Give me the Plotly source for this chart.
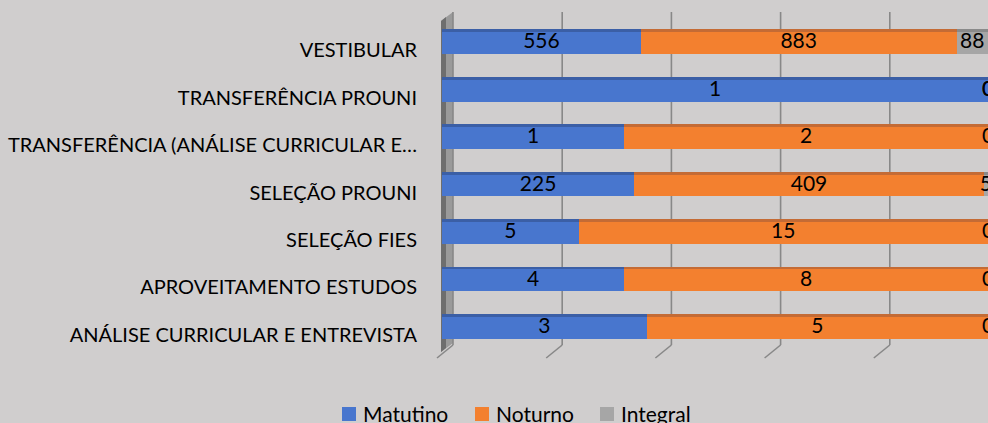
import plotly.graph_objects as go

# Enrolment counts per admission route, by shift (bottom category first)
categories = [
    "ANÁLISE CURRICULAR E ENTREVISTA",
    "APROVEITAMENTO ESTUDOS",
    "SELEÇÃO FIES",
    "SELEÇÃO PROUNI",
    "TRANSFERÊNCIA (ANÁLISE CURRICULAR E…",
    "TRANSFERÊNCIA PROUNI",
    "VESTIBULAR",
]
matutino = [3, 4, 5, 225, 1, 1, 556]
noturno = [5, 8, 15, 409, 2, 0, 883]
integral = [0, 0, 0, 5, 0, 0, 88]

series = [
    ("Matutino", matutino, "#4876CE", "#3B5FA6"),
    ("Noturno", noturno, "#F3802F", "#C46B35"),
    ("Integral", integral, "#A6A6A6", "#8A8A8A"),
]

W, H = 988, 423
ML, MR, MT, MB = 442, 0, 12, 65
X_MAX = 1.0
Y_RANGE = [-0.632, 6.653]
FONT = "Lato"
BG = "#D0CECE"

totals = [a + b + c for a, b, c in zip(matutino, noturno, integral)]

fig = go.Figure()

FRONT_W = 0.463
TOP_W = 0.06
cum = [0.0] * len(categories)
label_x, label_y, label_t = [], [], []
for name, vals, col, top_col in series:
    share = [v / t for v, t in zip(vals, totals)]
    base = cum[:]
    # front face of each segment
    fig.add_trace(go.Bar(
        y=categories, x=share, base=base, orientation="h", name=name,
        marker=dict(color=col, line=dict(width=0)), showlegend=False,
        width=FRONT_W, offset=-FRONT_W / 2, hoverinfo="skip",
    ))
    # darker top face giving the 3D look
    fig.add_trace(go.Bar(
        y=categories, x=share, base=base, orientation="h", showlegend=False,
        marker=dict(color=top_col, line=dict(width=0)),
        width=TOP_W, offset=FRONT_W / 2, hoverinfo="skip",
    ))
    for i, (b, s, v) in enumerate(zip(base, share, vals)):
        label_x.append(b + s / 2)
        label_y.append(categories[i])
        label_t.append(str(v))
    cum = [c + s for c, s in zip(cum, share)]

fig.add_trace(go.Scatter(
    x=label_x, y=label_y, text=label_t, mode="text", showlegend=False,
    textfont=dict(family=FONT, size=21, color="#000000"),
    textposition="middle center", cliponaxis=False, hoverinfo="skip",
))

# back-wall gridlines, floor ticks and side wall (paper coordinates)
plot_w = W - ML - MR
plot_h = H - MT - MB


def px_x(p):
    return (p - ML) / plot_w


def px_y(p):
    return (H - MB - p) / plot_h


px_per_unit = plot_w / X_MAX
DEPTH = 11
shapes = []
shapes.append(dict(type="path", xref="paper", yref="paper", layer="below",
                   path=f"M{px_x(441)},{px_y(21)} L{px_x(453)},{px_y(12)} L{px_x(453)},{px_y(343)} L{px_x(441)},{px_y(352)} Z",
                   fillcolor="#9A9A9A", line=dict(width=0)))
shapes.append(dict(type="path", xref="paper", yref="paper", layer="below",
                   path=f"M{px_x(441)},{px_y(21)} L{px_x(446)},{px_y(17)} L{px_x(446)},{px_y(348)} L{px_x(441)},{px_y(352)} Z",
                   fillcolor="#6E6E6E", line=dict(width=0)))
for v in [0, 0.2, 0.4, 0.6, 0.8]:
    gx = ML + v * px_per_unit + DEPTH
    shapes.append(dict(type="line", xref="paper", yref="paper", layer="below",
                       x0=px_x(gx), x1=px_x(gx), y0=px_y(12), y1=px_y(345),
                       line=dict(color="#888888", width=1.6)))
    shapes.append(dict(type="line", xref="paper", yref="paper", layer="below",
                       x0=px_x(gx), x1=px_x(gx - 16), y0=px_y(345), y1=px_y(358),
                       line=dict(color="#888888", width=1.6)))

# legend: colour square followed by the series name
annotations = []
legend_pos = [342, 475, 600]
for (name, _, col, _), lx in zip(series, legend_pos):
    shapes.append(dict(type="rect", xref="paper", yref="paper",
                       x0=px_x(lx), x1=px_x(lx + 14), y0=px_y(407), y1=px_y(421),
                       fillcolor=col, line=dict(width=0)))
    annotations.append(dict(xref="paper", yref="paper", x=px_x(lx + 19), y=px_y(413),
                            xanchor="left", yanchor="middle", showarrow=False,
                            text=name, font=dict(family=FONT, size=21, color="#000000")))

fig.update_layout(
    width=W, height=H,
    margin=dict(l=ML, r=MR, t=MT, b=MB, pad=0),
    paper_bgcolor=BG, plot_bgcolor="rgba(0,0,0,0)",
    barmode="overlay", bargap=0,
    font=dict(family=FONT, size=20, color="#000000"),
    shapes=shapes, annotations=annotations,
    showlegend=False,
)
fig.update_xaxes(range=[0, X_MAX], showgrid=False, zeroline=False,
                 showticklabels=False, showline=False, fixedrange=True)
fig.update_yaxes(type="category", categoryorder="array", categoryarray=categories,
                 range=Y_RANGE, showgrid=False, zeroline=False, showline=False,
                 ticks="", ticklabelstandoff=24, ticklabelshift=7,
                 tickfont=dict(family=FONT, size=20, color="#000000"))

fig.write_html("out.html")
